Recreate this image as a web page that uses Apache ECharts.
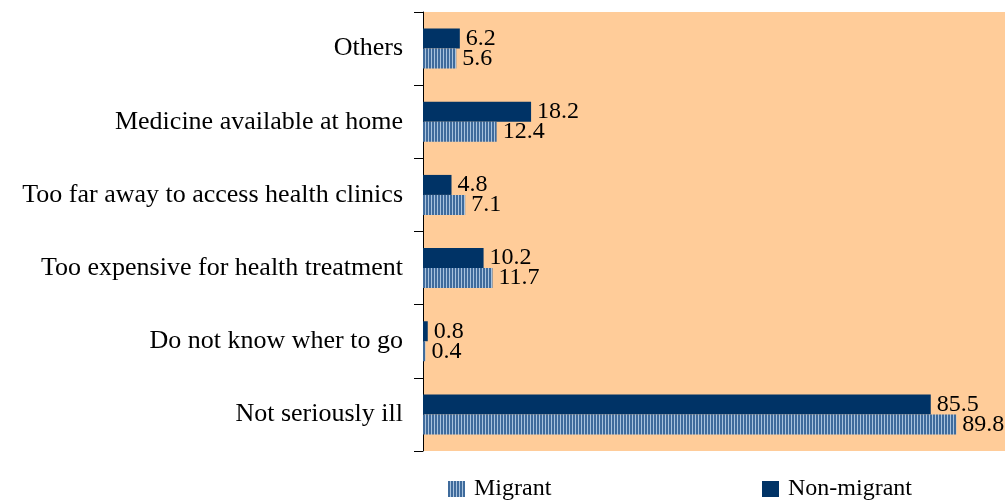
<!DOCTYPE html>
<html>
<head>
<meta charset="utf-8">
<script src="https://cdn.jsdelivr.net/npm/echarts@6/dist/echarts.min.js"></script>
<style>
  html, body { margin: 0; padding: 0; background: #fff; }
  #chart { width: 1005px; height: 500px; }
</style>
</head>
<body>
<div id="chart"></div>
<script>
const reasons = [
  'Not seriously ill',
  'Do not know wher to go',
  'Too expensive for health treatment',
  'Too far away to access health clinics',
  'Medicine available at home',
  'Others',
];
const migrant = [89.8, 0.4, 11.7, 7.1, 12.4, 5.6];
const nonMigrant = [85.5, 0.8, 10.2, 4.8, 18.2, 6.2];

// striped fill for the migrant bars
function stripes() {
  const c = document.createElement('canvas');
  c.width = 3;
  c.height = 4;
  const ctx = c.getContext('2d');
  ctx.fillStyle = '#3f6b9c';
  ctx.fillRect(0, 0, 2, 4);
  ctx.fillStyle = '#a9c3de';
  ctx.fillRect(2, 0, 1, 4);
  return { image: c, repeat: 'repeat' };
}

const font = 'Liberation Serif';
const chart = echarts.init(document.getElementById('chart'));

const label = {
  show: true,
  position: 'right',
  distance: 6,
  color: '#000',
  fontFamily: font,
  fontSize: 24,
  formatter: (p) => p.value.toFixed(1),
};

const legendText = {
  fontFamily: font,
  fontSize: 24,
  color: '#000',
  padding: [0, 0, 0, 4],
};

chart.setOption({
  animation: false,
  grid: {
    left: 423,
    right: 0,
    top: 12,
    bottom: 49,
    show: true,
    backgroundColor: '#ffcc99',
    borderWidth: 0,
  },
  legend: [
    {
      data: ['Migrant'],
      icon: 'rect',
      left: 448,
      top: 477,
      padding: 0,
      itemWidth: 17,
      itemHeight: 16,
      textStyle: legendText,
    },
    {
      data: ['Non-migrant'],
      icon: 'rect',
      left: 762,
      top: 477,
      padding: 0,
      itemWidth: 17,
      itemHeight: 16,
      textStyle: legendText,
    },
  ],
  xAxis: {
    type: 'value',
    min: 0,
    max: 98,
    show: false,
    splitLine: { show: false },
  },
  yAxis: {
    type: 'category',
    data: reasons,
    axisLine: { show: true, lineStyle: { color: '#000', width: 1 } },
    axisTick: { show: true, length: 9, lineStyle: { color: '#000' } },
    axisLabel: {
      color: '#000',
      fontFamily: font,
      fontSize: 26,
      margin: 20,
    },
  },
  series: [
    {
      name: 'Non-migrant',
      type: 'bar',
      data: nonMigrant,
      barWidth: 20,
      barGap: '0%',
      itemStyle: { color: '#003366' },
      label: label,
    },
    {
      name: 'Migrant',
      type: 'bar',
      data: migrant,
      barWidth: 20,
      itemStyle: { color: stripes() },
      label: label,
    },
  ],
});
</script>
</body>
</html>
